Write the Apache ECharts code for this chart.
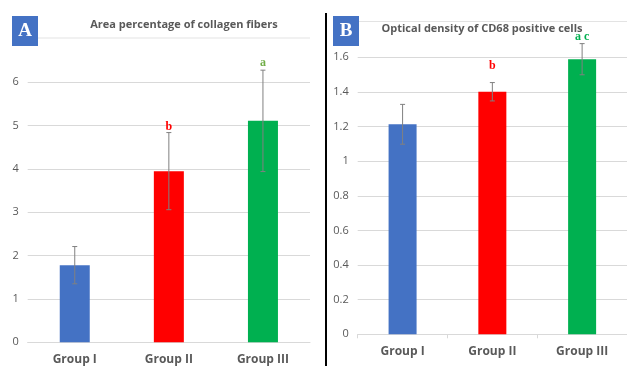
<!DOCTYPE html>
<html><head><meta charset="utf-8">
<script src="https://cdn.jsdelivr.net/npm/echarts@6/dist/echarts.min.js"></script>
<style>html,body{margin:0;padding:0;background:#fff}#c{width:627px;height:366px}</style>
</head><body><div id="c"></div>
<script>
const categories = ['Group I', 'Group II', 'Group III'];
const barColors = ['#4472C4', '#FF0000', '#00B050'];
// Panel A: Area percentage of collagen fibers
const titleA = 'Area percentage of collagen fibers';
const meanA = [1.78, 3.95, 5.11];
const errA = [0.43, 0.89, 1.17];
const lettersA = ['', 'b', 'a'];
const letterValA = [null, 4.97, 6.44];
const letterColorA = ['#000', '#FF0000', '#70AD47'];
// Panel B: Optical density of CD68 positive cells
const titleB = 'Optical density of CD68 positive cells';
const meanB = [1.213, 1.401, 1.589];
const errB = [0.115, 0.053, 0.09];
const lettersB = ['', 'b', 'a c'];
const letterValB = [null, 1.55, 1.72];
const letterColorB = ['#000', '#FF0000', '#00B050'];

const FONT = 'Open Sans';
const chart = echarts.init(document.getElementById('c'), null, {renderer: 'canvas'});

function errSeries(xi, mean, err) {
  return {
    type: 'custom', xAxisIndex: xi, yAxisIndex: xi, clip: false, z: 5,
    data: mean.map((m, i) => [i, m, err[i]]),
    renderItem: function (params, api) {
      const x = api.value(0), m = api.value(1), e = api.value(2);
      const t = api.coord([x, m + e]), b = api.coord([x, m - e]);
      const st = {stroke: '#808080', lineWidth: 1};
      return {type: 'group', children: [
        {type: 'line', shape: {x1: t[0], y1: t[1], x2: b[0], y2: b[1]}, style: st},
        {type: 'line', shape: {x1: t[0] - 2.5, y1: t[1], x2: t[0] + 2.5, y2: t[1]}, style: st},
        {type: 'line', shape: {x1: b[0] - 2.5, y1: b[1], x2: b[0] + 2.5, y2: b[1]}, style: st}
      ]};
    }
  };
}
function letterSeries(xi, letters, vals, colors) {
  return {
    type: 'custom', xAxisIndex: xi, yAxisIndex: xi, clip: false, z: 6,
    data: letters.map((l, i) => [i, vals[i] == null ? 0 : vals[i]]),
    renderItem: function (params, api) {
      const i = params.dataIndex;
      if (!letters[i]) return null;
      const p = api.coord([api.value(0), api.value(1)]);
      return {type: 'text', x: p[0], y: p[1], style: {text: letters[i], fill: colors[i],
        font: 'bold 12px "Liberation Serif"', align: 'center', verticalAlign: 'middle'}};
    }
  };
}
function barSeries(xi, mean, w) {
  return {
    type: 'bar', xAxisIndex: xi, yAxisIndex: xi, barWidth: w,
    data: mean.map((v, i) => ({value: v, itemStyle: {color: barColors[i]}}))
  };
}

const axisLabelX = {color: '#595959', fontFamily: FONT, fontWeight: 'bold', fontSize: 12, margin: 11};
const axisLabelY = {color: '#595959', fontFamily: FONT, fontSize: 11, margin: 9};
const splitLine = {show: true, lineStyle: {color: '#D9D9D9', width: 1}};
const titleFont = 'bold 11px "' + FONT + '"';

chart.setOption({
  animation: false,
  backgroundColor: '#fff',
  grid: [
    {left: 27.7, top: 82.3, width: 282.3, height: 260},
    {left: 357.7, top: 57.3, width: 272, height: 277}
  ],
  xAxis: [
    {type: 'category', gridIndex: 0, data: categories, axisLine: {lineStyle: {color: '#D9D9D9'}}, axisTick: {show: false}, axisLabel: axisLabelX},
    {type: 'category', gridIndex: 1, data: categories, axisLine: {lineStyle: {color: '#D9D9D9'}}, axisTick: {show: true, length: 4, lineStyle: {color: '#D9D9D9'}}, axisLabel: axisLabelX}
  ],
  yAxis: [
    {type: 'value', gridIndex: 0, min: 0, max: 6, interval: 1, axisLine: {show: false}, axisTick: {show: false}, axisLabel: axisLabelY, splitLine: splitLine},
    {type: 'value', gridIndex: 1, min: 0, max: 1.6, interval: 0.2, axisLine: {show: false}, axisTick: {show: false},
     axisLabel: Object.assign({}, axisLabelY, {formatter: v => String(Math.round(v * 10) / 10)}), splitLine: splitLine}
  ],
  graphic: [
    {type: 'line', shape: {x1: 38, y1: 38, x2: 310, y2: 38}, style: {stroke: '#E3E3E3', lineWidth: 1}},
    {type: 'line', shape: {x1: 359, y1: 21.5, x2: 627, y2: 21.5}, style: {stroke: '#E3E3E3', lineWidth: 1}},
    {type: 'text', x: 184, y: 25, style: {text: titleA, fill: '#595959', font: titleFont, align: 'center', verticalAlign: 'middle'}},
    {type: 'text', x: 482, y: 29, style: {text: titleB, fill: '#595959', font: titleFont, align: 'center', verticalAlign: 'middle'}},
    {type: 'rect', shape: {x: 325, y: 13, width: 2, height: 353}, style: {fill: '#000'}},
    {type: 'rect', shape: {x: 12, y: 16, width: 26, height: 30}, style: {fill: '#4472C4'}},
    {type: 'text', x: 25, y: 31.5, style: {text: 'A', fill: '#fff', font: 'bold 19px "Liberation Serif"', align: 'center', verticalAlign: 'middle'}},
    {type: 'rect', shape: {x: 333, y: 16, width: 26, height: 30}, style: {fill: '#4472C4'}},
    {type: 'text', x: 346, y: 31.5, style: {text: 'B', fill: '#fff', font: 'bold 19px "Liberation Serif"', align: 'center', verticalAlign: 'middle'}}
  ],
  series: [
    barSeries(0, meanA, 30), errSeries(0, meanA, errA), letterSeries(0, lettersA, letterValA, letterColorA),
    barSeries(1, meanB, 28), errSeries(1, meanB, errB), letterSeries(1, lettersB, letterValB, letterColorB)
  ]
});
</script></body></html>
